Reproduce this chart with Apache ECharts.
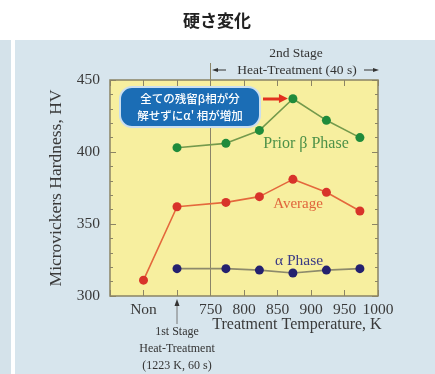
<!DOCTYPE html>
<html lang="ja">
<head>
    <meta charset="UTF-8">
    <title>硬さ変化</title>
    <style>
        *{ margin: 0; }
        html,body{ width: 435px; height: 374px; background: #fff; }
        #hard{ width: 435px; height: 374px; }
    </style>
    <script src="https://cdn.jsdelivr.net/npm/echarts@6/dist/echarts.min.js"></script>
</head>
<body>
<div id="hard"></div>
<script>
    // 処理温度 (K)、Non は 650 の位置に置く
    const temps = [700, 773, 823, 873, 923, 973];
    const nonPos = 650;
    const priorBeta = [403, 406, 415, 437, 422, 410];
    const average = [362, 365, 369, 381, 372, 359];
    const averageNon = 311;
    const alphaPhase = [319, 319, 318, 316, 318, 319];
    const xTickLabels = {650: 'Non', 750: '750', 800: '800', 850: '850', 900: '900', 950: '950', 1000: '1000'};

    const serif = 'Liberation Serif';

    function pairs(xs, ys) {
        let out = [];
        for (let i = 0; i < xs.length; i++) out.push([xs[i], ys[i]]);
        return out;
    }

    const myChart = echarts.init(document.getElementById('hard'));

    function series(name, data, lineColor, dotColor) {
        return {
            name: name,
            type: 'line',
            data: data,
            symbol: 'circle',
            symbolSize: 9,
            lineStyle: {color: lineColor, width: 1.6},
            itemStyle: {color: dotColor},
            z: 5
        };
    }

    const avgData = [[nonPos, averageNon]].concat(pairs(temps, average));

    myChart.setOption({
        animation: false,
        backgroundColor: '#ffffff',
        grid: {
            left: 110, right: 57, top: 80, bottom: 78,
            show: true,
            backgroundColor: '#f7ef9f',
            borderColor: '#8b8465',
            borderWidth: 1.5
        },
        xAxis: [{
            type: 'value', min: 600, max: 1000, interval: 50,
            axisLine: {show: false},
            axisTick: {show: true, inside: true, length: 6, lineStyle: {color: '#8b8465'}},
            splitLine: {show: false},
            axisLabel: {
                margin: 6, color: '#3a3a3a', fontFamily: serif, fontSize: 15.5,
                formatter: function (v) { return xTickLabels[v] || ''; }
            }
        }, {
            type: 'value', min: 600, max: 1000, interval: 50, position: 'top',
            axisLine: {show: false},
            axisTick: {show: true, inside: true, length: 6, lineStyle: {color: '#8b8465'}},
            axisLabel: {show: false},
            splitLine: {show: false}
        }],
        yAxis: [{
            type: 'value', min: 300, max: 450, interval: 50,
            name: 'Microvickers Hardness, HV',
            nameLocation: 'middle', nameGap: 45,
            nameTextStyle: {fontFamily: serif, fontSize: 17.5, color: '#3a3a3a'},
            axisLine: {show: false},
            axisTick: {show: true, inside: true, length: 6, lineStyle: {color: '#8b8465'}},
            minorTick: {show: true, splitNumber: 5, length: 3, lineStyle: {color: '#8b8465'}},
            splitLine: {show: false},
            axisLabel: {margin: 10, color: '#3a3a3a', fontFamily: serif, fontSize: 15.5}
        }, {
            type: 'value', min: 300, max: 450, interval: 50, position: 'right',
            axisLine: {show: false},
            axisTick: {show: true, inside: true, length: 6, lineStyle: {color: '#8b8465'}},
            minorTick: {show: true, splitNumber: 5, length: 3, lineStyle: {color: '#8b8465'}},
            splitLine: {show: false},
            axisLabel: {show: false}
        }],
        series: [
            series('Prior β Phase', pairs(temps, priorBeta), '#749a4c', '#1f8b3b'),
            series('Average', avgData, '#e4683c', '#d8332a'),
            series('α Phase', pairs(temps, alphaPhase), '#8d8a6c', '#24216f')
        ]
    });

    // 注記類 (座標はグリッドから変換)
    const p = function (x, y) { return myChart.convertToPixel({xAxisIndex: 0, yAxisIndex: 0}, [x, y]); };
    const bottom750 = p(750, 300);
    const top750 = p(750, 450);
    const stage1 = p(700, 300);
    const peak = p(873, 437);
    const rightEnd = p(1000, 450);

    const txt = function (x, y, text, color, size, extra) {
        return {
            type: 'text', x: x, y: y, z: 10,
            style: Object.assign({
                text: text, fill: color, font: size + 'px "' + serif + '"',
                textAlign: 'center', textVerticalAlign: 'middle'
            }, extra || {})
        };
    };

    myChart.setOption({
        graphic: [
            // 背景パネル
            {type: 'rect', z: -10, silent: true, shape: {x: 0, y: 40, width: 11, height: 334}, style: {fill: '#d4e2ea'}},
            {type: 'rect', z: -10, silent: true, shape: {x: 15, y: 40, width: 420, height: 334}, style: {fill: '#d7e5ed'}},
            {
                type: 'text', x: 217, y: 21, z: 10,
                style: {
                    text: '硬さ変化', fill: '#222', font: 'bold 17px "Noto Sans CJK JP"',
                    textAlign: 'center', textVerticalAlign: 'middle'
                }
            },
            // 750 K の縦線
            {
                type: 'line', z: 4,
                shape: {x1: bottom750[0], y1: bottom750[1], x2: top750[0], y2: 63},
                style: {stroke: '#8a8468', lineWidth: 1}
            },
            // 2nd stage
            txt(296, 53, '2nd Stage', '#333', 13.5),
            txt(297, 70, 'Heat-Treatment (40 s)', '#333', 13.5),
            {type: 'line', shape: {x1: 215, y1: 70, x2: 226, y2: 70}, style: {stroke: '#333', lineWidth: 1}},
            {type: 'polygon', shape: {points: [[212, 70], [218, 68], [218, 72]]}, style: {fill: '#333'}},
            {type: 'line', shape: {x1: rightEnd[0] - 14, y1: 70, x2: rightEnd[0] - 2, y2: 70}, style: {stroke: '#333', lineWidth: 1}},
            {type: 'polygon', shape: {points: [[rightEnd[0] + 1, 70], [rightEnd[0] - 5, 68], [rightEnd[0] - 5, 72]]}, style: {fill: '#333'}},
            // 1st stage
            {type: 'line', shape: {x1: stage1[0], y1: stage1[1] + 6, x2: stage1[0], y2: stage1[1] + 28}, style: {stroke: '#777', lineWidth: 1}},
            {type: 'polygon', shape: {points: [[stage1[0], stage1[1] + 3], [stage1[0] - 2.5, stage1[1] + 10], [stage1[0] + 2.5, stage1[1] + 10]]}, style: {fill: '#333'}},
            txt(stage1[0], 332, '1st Stage', '#333', 12),
            txt(stage1[0], 349, 'Heat-Treatment', '#333', 12),
            txt(stage1[0], 366, '(1223 K, 60 s)', '#333', 12),
            txt(297, 325, 'Treatment Temperature, K', '#3a3a3a', 16),
            // 系列名
            txt(306, 144, 'Prior β Phase', '#4d9148', 16),
            txt(298, 204, 'Average', '#e0653c', 15),
            txt(299, 261, 'α Phase', '#3b3a86', 15.5),
            // 吹き出し
            {
                type: 'rect', z: 20,
                shape: {x: 120, y: 87, width: 140, height: 40, r: 12},
                style: {fill: '#1b6db5', stroke: '#c9def0', lineWidth: 2}
            },
            {
                type: 'text', x: 190, y: 107, z: 21,
                style: {
                    text: '全ての残留β相が分\n解せずにα\' 相が増加', fill: '#fff',
                    font: '500 11.5px "Noto Sans CJK JP"', lineHeight: 17,
                    textAlign: 'center', textVerticalAlign: 'middle'
                }
            },
            {type: 'line', z: 20, shape: {x1: 263, y1: 99, x2: peak[0] - 12, y2: 99}, style: {stroke: '#e2311f', lineWidth: 3}},
            {type: 'polygon', z: 20, shape: {points: [[peak[0] - 5, 98.5], [peak[0] - 14, 94], [peak[0] - 14, 103]]}, style: {fill: '#e2311f'}}
        ]
    });
</script>
</body>
</html>
